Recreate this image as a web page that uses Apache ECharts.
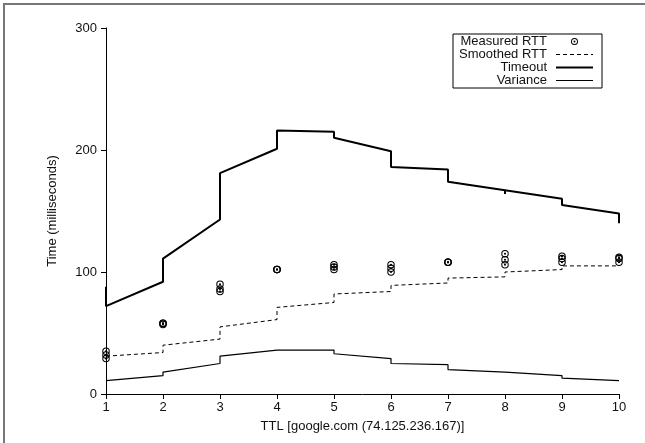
<!DOCTYPE html>
<html>
<head>
<meta charset="utf-8">
<script src="https://cdn.jsdelivr.net/npm/echarts@6/dist/echarts.min.js"></script>
<style>
html,body{margin:0;padding:0;background:#fff;}
#chart{width:645px;height:443px;}
</style>
</head>
<body>
<div id="chart"></div>
<script>
// ---- data ----
var xTicks = [1, 2, 3, 4, 5, 6, 7, 8, 9, 10];
var yTicks = [0, 100, 200, 300];

var measuredTTL = [1,1,1, 2,2,2, 3,3,3, 4,4,4, 5,5,5, 6,6,6, 7,7,7, 8,8,8, 9,9,9, 10,10,10];
var measuredRTT = [35,32,29, 58,58,57, 90,86,84, 102,102,102, 106,104,102, 106,103,100, 108,108,108, 115,110,106, 113,111,108, 112,111,108];

var smoothedTTL = [1, 2, 2, 3, 3, 4, 4, 5, 5, 6, 6, 7, 7, 8, 8, 9, 9, 10];
var smoothedRTT = [31, 34, 40, 45, 55, 61, 71, 75, 82, 84, 89, 91, 95, 96, 100, 102, 105, 105];

var timeoutTTL = [1, 1, 2, 2, 3, 3, 4, 4, 5, 5, 6, 6, 7, 7, 8, 8, 8, 9, 9, 10, 10];
var timeoutVal = [88, 72, 92, 111, 143, 181, 201, 216, 215, 210, 199, 186, 184, 174, 167, 164, 167, 160, 155, 148, 140];

var varianceTTL = [1, 2, 2, 3, 3, 4, 4, 5, 5, 6, 6, 7, 7, 8, 8, 9, 9, 10];
var varianceVal = [11, 15, 18, 25, 31, 36, 37, 36, 33, 29, 25, 24, 20, 18, 17, 15, 13, 11];

var seriesNames = ['Measured RTT', 'Smoothed RTT', 'Timeout', 'Variance'];

function pairs(xs, ys) { return xs.map(function (x, i) { return [x, ys[i]]; }); }

var ringDot = 'path://M0,-10A10,10 0 1,1 0,10A10,10 0 1,1 0,-10Z' +
  'M0,-7.2A7.2,7.2 0 1,0 0,7.2A7.2,7.2 0 1,0 0,-7.2Z' +
  'M0,-2.8A2.8,2.8 0 1,1 0,2.8A2.8,2.8 0 1,1 0,-2.8Z';

var FONT = '"Liberation Sans", Arial, sans-serif';
var INK = '#111';

var smoothStyle = { color: '#000', width: 1, type: [4, 3] };
var timeoutStyle = { color: '#000', width: 2, type: 'solid' };
var varianceStyle = { color: '#000', width: 1.2, type: 'solid' };

var chart = echarts.init(document.getElementById('chart'), null, { renderer: 'canvas' });
chart.setOption({
  animation: false,
  backgroundColor: '#fff',
  textStyle: { fontFamily: FONT, color: INK },
  grid: { left: 106, right: 26, top: 28, bottom: 49, containLabel: false },
  graphic: [
    { type: 'line', shape: { x1: 3, y1: 4, x2: 645, y2: 4 }, style: { stroke: '#777', lineWidth: 2 }, silent: true },
    { type: 'line', shape: { x1: 4, y1: 3, x2: 4, y2: 443 }, style: { stroke: '#777', lineWidth: 2 }, silent: true }
  ],
  legend: {
    orient: 'vertical',
    align: 'right',
    right: 43,
    top: 34,
    padding: [1, 8, 1, 6],
    itemGap: 0,
    itemWidth: 37,
    itemHeight: 7,
    borderColor: '#000',
    borderWidth: 1,
    selectedMode: false,
    textStyle: { fontFamily: FONT, fontSize: 13, lineHeight: 13, color: INK, width: 88, align: 'right', padding: [0, 4, 0, 0] },
    data: [
      { name: seriesNames[0] },
      { name: seriesNames[1], itemStyle: { opacity: 0 }, lineStyle: { color: '#000', width: 1, type: [4, 3], opacity: 1 } },
      { name: seriesNames[2], itemStyle: { opacity: 0 }, lineStyle: { color: '#000', width: 2, type: 'solid', opacity: 1 } },
      { name: seriesNames[3], itemStyle: { opacity: 0 }, lineStyle: { color: '#000', width: 1.2, type: 'solid', opacity: 1 } }
    ]
  },
  xAxis: {
    type: 'value',
    min: 1, max: 10, interval: 1,
    name: 'TTL [google.com (74.125.236.167)]',
    nameLocation: 'middle',
    nameGap: 26,
    nameTextStyle: { fontFamily: FONT, fontSize: 13, color: INK },
    axisLine: { show: true, onZero: false, lineStyle: { color: '#000', width: 1 } },
    axisTick: { show: true, inside: false, length: 5, lineStyle: { color: '#000' } },
    axisLabel: { fontFamily: FONT, fontSize: 13, color: INK, margin: 7,
      formatter: function (v) { return xTicks.indexOf(v) >= 0 ? String(v) : ''; } },
    splitLine: { show: false }
  },
  yAxis: {
    type: 'value',
    min: 0, max: 300, interval: 100,
    name: 'Time (milliseconds)',
    nameLocation: 'middle',
    nameGap: 47,
    nameTextStyle: { fontFamily: FONT, fontSize: 13, color: INK },
    axisLine: { show: true, onZero: false, lineStyle: { color: '#000', width: 1 } },
    axisTick: { show: true, inside: false, length: 5, lineStyle: { color: '#000' } },
    axisLabel: { fontFamily: FONT, fontSize: 13, color: INK, margin: 9,
      formatter: function (v) { return yTicks.indexOf(v) >= 0 ? String(v) : ''; } },
    splitLine: { show: false }
  },
  series: [
    {
      name: seriesNames[0],
      type: 'scatter',
      data: pairs(measuredTTL, measuredRTT),
      symbol: ringDot,
      symbolSize: 7.5,
      symbolKeepAspect: true,
      itemStyle: { color: '#000', opacity: 1 },
      z: 5
    },
    {
      name: seriesNames[1],
      type: 'line',
      data: pairs(smoothedTTL, smoothedRTT),
      symbol: 'none',
      lineStyle: smoothStyle,
      itemStyle: { color: '#000' }
    },
    {
      name: seriesNames[2],
      type: 'line',
      data: pairs(timeoutTTL, timeoutVal),
      symbol: 'none',
      lineStyle: timeoutStyle,
      itemStyle: { color: '#000' }
    },
    {
      name: seriesNames[3],
      type: 'line',
      data: pairs(varianceTTL, varianceVal),
      symbol: 'none',
      lineStyle: varianceStyle,
      itemStyle: { color: '#000' }
    }
  ]
});
</script>
</body>
</html>
